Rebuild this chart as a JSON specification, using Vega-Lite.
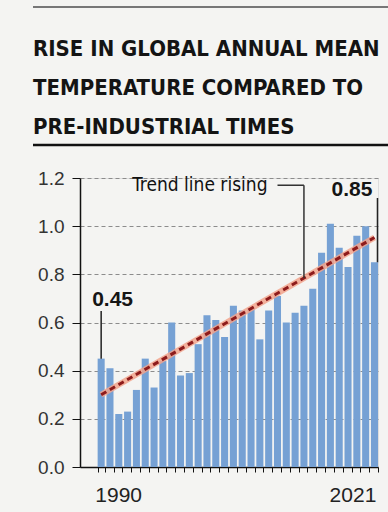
{
  "$schema": "https://vega.github.io/schema/vega-lite/v6.json",
  "width": 298,
  "height": 289,
  "autosize": "none",
  "padding": {"left": 80, "top": 178, "right": 10, "bottom": 45},
  "background": "#f4f4f2",
  "title": {
    "text": ["RISE IN GLOBAL ANNUAL MEAN", "TEMPERATURE COMPARED TO", "PRE-INDUSTRIAL TIMES"],
    "anchor": "start",
    "frame": "group",
    "dx": -47,
    "offset": -133,
    "font": "DejaVu Sans Condensed, Liberation Sans, sans-serif",
    "fontSize": 22,
    "fontWeight": "bold",
    "lineHeight": 39,
    "color": "#141414"
  },
  "datasets": {
    "temps": [
      {"year": 1990, "value": 0.45},
      {"year": 1991, "value": 0.41},
      {"year": 1992, "value": 0.22},
      {"year": 1993, "value": 0.23},
      {"year": 1994, "value": 0.32},
      {"year": 1995, "value": 0.45},
      {"year": 1996, "value": 0.33},
      {"year": 1997, "value": 0.44},
      {"year": 1998, "value": 0.60},
      {"year": 1999, "value": 0.38},
      {"year": 2000, "value": 0.39},
      {"year": 2001, "value": 0.51},
      {"year": 2002, "value": 0.63},
      {"year": 2003, "value": 0.61},
      {"year": 2004, "value": 0.54},
      {"year": 2005, "value": 0.67},
      {"year": 2006, "value": 0.65},
      {"year": 2007, "value": 0.66},
      {"year": 2008, "value": 0.53},
      {"year": 2009, "value": 0.65},
      {"year": 2010, "value": 0.71},
      {"year": 2011, "value": 0.60},
      {"year": 2012, "value": 0.64},
      {"year": 2013, "value": 0.67},
      {"year": 2014, "value": 0.74},
      {"year": 2015, "value": 0.89},
      {"year": 2016, "value": 1.01},
      {"year": 2017, "value": 0.91},
      {"year": 2018, "value": 0.83},
      {"year": 2019, "value": 0.96},
      {"year": 2020, "value": 1.00},
      {"year": 2021, "value": 0.85}
    ],
    "trend": [
      {"year": 1990, "trend": 0.30},
      {"year": 2021, "trend": 0.953}
    ]
  },
  "layer": [
    {
      "data": {"name": "temps"},
      "mark": {"type": "bar", "color": "#76a1d4"},
      "encoding": {
        "x": {
          "field": "year",
          "type": "ordinal",
          "scale": {"paddingInner": 0.2, "paddingOuter": 1, "align": 1},
          "axis": {
            "title": null,
            "labelExpr": "datum.value == 1990 || datum.value == 2021 ? datum.label : ''",
            "labelAngle": 0,
            "labelOverlap": false,
            "labelFont": "Liberation Sans",
            "labelFontSize": 21,
            "labelColor": "#222222",
            "labelPadding": 12,
            "labelOffset": {"condition": {"test": "datum.value == 1990", "value": 17}, "value": -22},
            "tickBand": "extent",
            "tickSize": 5,
            "tickColor": "#111111",
            "domainColor": "#111111",
            "domainWidth": 1.5
          }
        },
        "y": {
          "field": "value",
          "type": "quantitative",
          "scale": {"domain": [0, 1.2], "nice": false},
          "axis": {
            "title": null,
            "values": [0, 0.2, 0.4, 0.6, 0.8, 1.0, 1.2],
            "format": ".1f",
            "grid": true,
            "gridDash": [4, 3],
            "gridColor": "#8c8c8c",
            "gridWidth": 1,
            "domainColor": "#111111",
            "domainWidth": 1.5,
            "tickColor": "#111111",
            "tickSize": 8,
            "labelFont": "Liberation Sans",
            "labelFontSize": 19,
            "labelColor": "#333333",
            "labelPadding": 8
          }
        }
      }
    },
    {
      "data": {"name": "trend"},
      "mark": {"type": "line", "color": "#f2a38c", "strokeWidth": 6, "opacity": 0.85},
      "encoding": {
        "x": {"field": "year", "type": "ordinal"},
        "y": {"field": "trend", "type": "quantitative"}
      }
    },
    {
      "data": {"name": "trend"},
      "mark": {"type": "line", "color": "#8e1b1b", "strokeWidth": 3, "strokeDash": [6, 4]},
      "encoding": {
        "x": {"field": "year", "type": "ordinal"},
        "y": {"field": "trend", "type": "quantitative"}
      }
    },
    {
      "data": {"name": "temps"},
      "transform": [{"filter": "datum.year == 1990"}],
      "mark": {"type": "rule", "color": "#222222", "strokeWidth": 1.5},
      "encoding": {
        "x": {"field": "year", "type": "ordinal"},
        "y": {"field": "value", "type": "quantitative"},
        "y2": {"datum": 0.648}
      }
    },
    {
      "data": {"name": "temps"},
      "transform": [{"filter": "datum.year == 1990"}],
      "mark": {"type": "text", "align": "left", "baseline": "alphabetic", "dx": -9, "dy": -53, "font": "Liberation Sans", "fontSize": 21, "fontWeight": "bold", "color": "#151515"},
      "encoding": {
        "x": {"field": "year", "type": "ordinal"},
        "y": {"field": "value", "type": "quantitative"},
        "text": {"field": "value", "type": "quantitative", "format": ".2f"}
      }
    },
    {
      "data": {"name": "temps"},
      "transform": [{"filter": "datum.year == 2021"}],
      "mark": {"type": "rule", "color": "#222222", "strokeWidth": 1.5, "xOffset": 3},
      "encoding": {
        "x": {"field": "year", "type": "ordinal"},
        "y": {"field": "value", "type": "quantitative"},
        "y2": {"datum": 1.117}
      }
    },
    {
      "data": {"name": "temps"},
      "transform": [{"filter": "datum.year == 2021"}],
      "mark": {"type": "text", "align": "right", "baseline": "alphabetic", "dx": -2, "dy": -66, "font": "Liberation Sans", "fontSize": 21, "fontWeight": "bold", "color": "#151515"},
      "encoding": {
        "x": {"field": "year", "type": "ordinal"},
        "y": {"field": "value", "type": "quantitative"},
        "text": {"field": "value", "type": "quantitative", "format": ".2f"}
      }
    },
    {
      "data": {"values": [{}]},
      "mark": {"type": "text", "align": "right", "baseline": "alphabetic", "dx": -10, "font": "DejaVu Sans Condensed, Liberation Sans, sans-serif", "fontSize": 19, "color": "#111111"},
      "encoding": {
        "x": {"datum": 2010, "type": "ordinal"},
        "y": {"datum": 1.146, "type": "quantitative"},
        "text": {"value": "Trend line rising"}
      }
    },
    {
      "data": {"values": [{}]},
      "mark": {"type": "rule", "color": "#333333", "strokeWidth": 1.5},
      "encoding": {
        "x": {"datum": 2010, "type": "ordinal"},
        "x2": {"datum": 2013},
        "y": {"datum": 1.17, "type": "quantitative"}
      }
    },
    {
      "data": {"values": [{}]},
      "mark": {"type": "rule", "color": "#333333", "strokeWidth": 1.5},
      "encoding": {
        "x": {"datum": 2013, "type": "ordinal"},
        "y": {"datum": 0.785, "type": "quantitative"},
        "y2": {"datum": 1.17}
      }
    },
    {
      "data": {"values": [{}]},
      "mark": {"type": "rule", "color": "#111111", "strokeWidth": 2.5},
      "encoding": {
        "x": {"value": -47},
        "x2": {"value": 308},
        "y": {"datum": 1.337, "type": "quantitative"}
      }
    },
    {
      "data": {"values": [{}]},
      "mark": {"type": "rule", "color": "#777777", "strokeWidth": 2},
      "encoding": {
        "x": {"value": -47},
        "x2": {"value": 308},
        "y": {"datum": 1.91, "type": "quantitative"}
      }
    }
  ]
}
